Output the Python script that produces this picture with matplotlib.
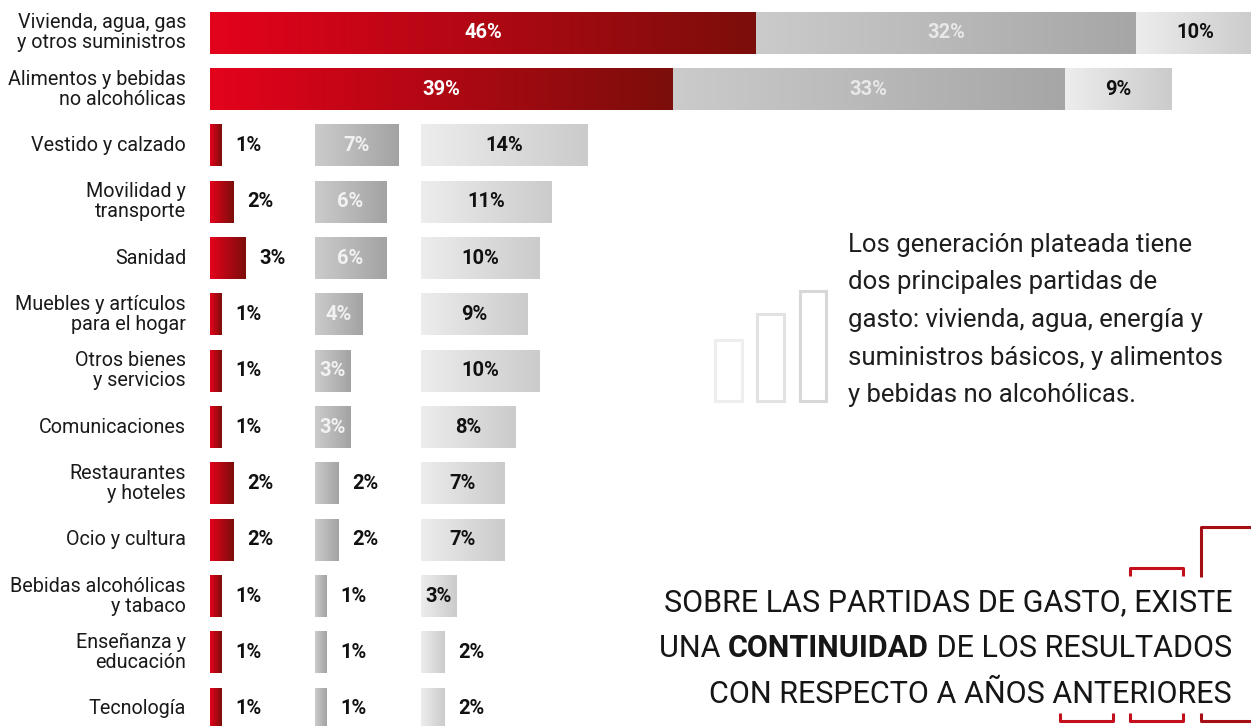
import numpy as np
import matplotlib
matplotlib.use("Agg")
import matplotlib.pyplot as plt
from matplotlib.colors import to_rgb

# ---------------- data ----------------
categories = [
    "Vivienda, agua, gas\ny otros suministros",
    "Alimentos y bebidas\nno alcohólicas",
    "Vestido y calzado",
    "Movilidad y\ntransporte",
    "Sanidad",
    "Muebles y artículos\npara el hogar",
    "Otros bienes\ny servicios",
    "Comunicaciones",
    "Restaurantes\ny hoteles",
    "Ocio y cultura",
    "Bebidas alcohólicas\ny tabaco",
    "Enseñanza y\neducación",
    "Tecnología",
]
serie_1 = [46, 39, 1, 2, 3, 1, 1, 1, 2, 2, 1, 1, 1]
serie_2 = [32, 33, 7, 6, 6, 4, 3, 3, 2, 2, 1, 1, 1]
serie_3 = [10, 9, 14, 11, 10, 9, 10, 8, 7, 7, 3, 2, 2]
stacked_rows = 2  # first two categories drawn as stacked bars

side_text = [
    "Los generación plateada tiene",
    "dos principales partidas de",
    "gasto: vivienda, agua, energía y",
    "suministros básicos, y alimentos",
    "y bebidas no alcohólicas.",
]

# ---------------- layout ----------------
W, H = 1251, 726
PX = 11.87           # pixels per percentage point
X0 = 210             # pixel x of 0 %
ROW0 = 32.8          # pixel y of first row centre
ROWSTEP = 56.35
BAR_H = 41.5 / ROWSTEP
COL2 = (315 - X0) / PX
COL3 = (421 - X0) / PX

RED = (to_rgb("#e4021c"), to_rgb("#7b0e0a"))
GRAY = (to_rgb("#cbcbcb"), to_rgb("#a3a3a3"))
LIGHT = (to_rgb("#ededed"), to_rgb("#cbcbcb"))

FONT = "Roboto"
plt.rcParams["font.family"] = [FONT, "DejaVu Sans"]

fig = plt.figure(figsize=(W / 100, H / 100), dpi=100)
ax = fig.add_axes([X0 / W, 0, (W - X0) / W, 1])
ax.set_xlim(0, (W - X0) / PX)
ax.set_ylim((H - ROW0) / ROWSTEP, -ROW0 / ROWSTEP)
ax.axis("off")


def grad_bar(x0, w, y, cols):
    t = np.linspace(0, 1, 256)[:, None]
    c0, c1 = np.array(cols[0]), np.array(cols[1])
    img = ((1 - t) * c0 + t * c1)[None, :, :]
    ax.imshow(img, extent=[x0, x0 + w, y + BAR_H / 2, y - BAR_H / 2],
              aspect="auto", interpolation="bilinear", zorder=2)


def label(x, y, v, color, ha="center"):
    ax.text(x, y, f"{v}%", ha=ha, va="center", fontsize=14.5,
            fontweight="bold", color=color, zorder=3)


for i, (a, b, c) in enumerate(zip(serie_1, serie_2, serie_3)):
    if i < stacked_rows:
        grad_bar(0, a, i, RED)
        grad_bar(a, b, i, (to_rgb("#cbcbcb"), to_rgb("#a6a6a6")))
        grad_bar(a + b, c, i, LIGHT)
        label(a / 2, i, a, "white")
        label(a + b / 2, i, b, "#e8e8e8")
        label(a + b + c / 2, i, c, "#111111")
    else:
        grad_bar(0, a, i, RED)
        grad_bar(COL2, b, i, GRAY)
        grad_bar(COL3, c, i, LIGHT)
        gap = 13.5 / PX
        label(a + gap, i, a, "#111111", ha="left")
        if b >= 3:
            label(COL2 + b / 2, i, b, "#f2f2f2")
        else:
            label(COL2 + b + gap, i, b, "#111111", ha="left")
        if c >= 3:
            label(COL3 + c / 2, i, c, "#111111")
        else:
            label(COL3 + c + gap, i, c, "#111111", ha="left")

for i, cat in enumerate(categories):
    ax.text(-24 / PX, i, cat, ha="right", va="center", fontsize=14.2,
            color="#1a1a1a", linespacing=1.06, clip_on=False)

# ---------------- decorations (pixel axes) ----------------
deco = fig.add_axes([0, 0, 1, 1], zorder=-1)
deco.set_xlim(0, W)
deco.set_ylim(H, 0)
deco.axis("off")

# icon of three outlined bars
for (x0, x1, y0), ec in zip([(715, 742, 340), (757, 784, 314), (800, 826, 291)],
                             ["#eeeeee", "#e2e2e2", "#d7d7d7"]):
    deco.add_patch(plt.Rectangle((x0, y0), x1 - x0, 401 - y0, fill=False,
                                 ec=ec, lw=2.2))

# side paragraph
for k, line in enumerate(side_text):
    deco.text(848, 245 + k * 37.5, line, ha="left", va="center",
              fontsize=18.5, color="#1e1e1e")

# bottom statement (right aligned, with bold word)
fig.canvas.draw()
renderer = fig.canvas.get_renderer()
TX = 1232
BIG = 22


def right_line(parts, baseline):
    x = TX
    for txt, wt in reversed(parts):
        t = deco.text(x, baseline, txt, ha="right", va="baseline",
                      fontsize=BIG, fontweight=wt, color="#161616")
        bb = t.get_window_extent(renderer)
        x -= bb.width


right_line([("SOBRE LAS PARTIDAS DE GASTO, EXISTE", "normal")], 611)
right_line([("UNA ", "normal"), ("CONTINUIDAD", "bold"),
            (" DE LOS RESULTADOS", "normal")], 657)
right_line([("CON RESPECTO A AÑOS ANTERIORES", "normal")], 703)

# red brackets
RC = "#c4101c"
lw = 2.2
deco.plot([1130, 1130, 1183, 1183], [576, 568, 568, 576], color=RC, lw=lw,
          solid_capstyle="butt")
deco.plot([1201, 1201, 1252], [577, 527, 527], color="#a50f14", lw=lw,
          solid_capstyle="butt")
deco.plot([1060, 1060, 1113, 1113], [713, 720.5, 720.5, 713], color=RC, lw=lw,
          solid_capstyle="butt")
deco.plot([1130, 1130, 1183, 1183], [713, 720.5, 720.5, 713], color=RC, lw=lw,
          solid_capstyle="butt")
deco.plot([1201, 1201, 1252], [713, 720.5, 720.5], color="#a50f14", lw=lw,
          solid_capstyle="butt")

fig.savefig("out.png", dpi=100)
